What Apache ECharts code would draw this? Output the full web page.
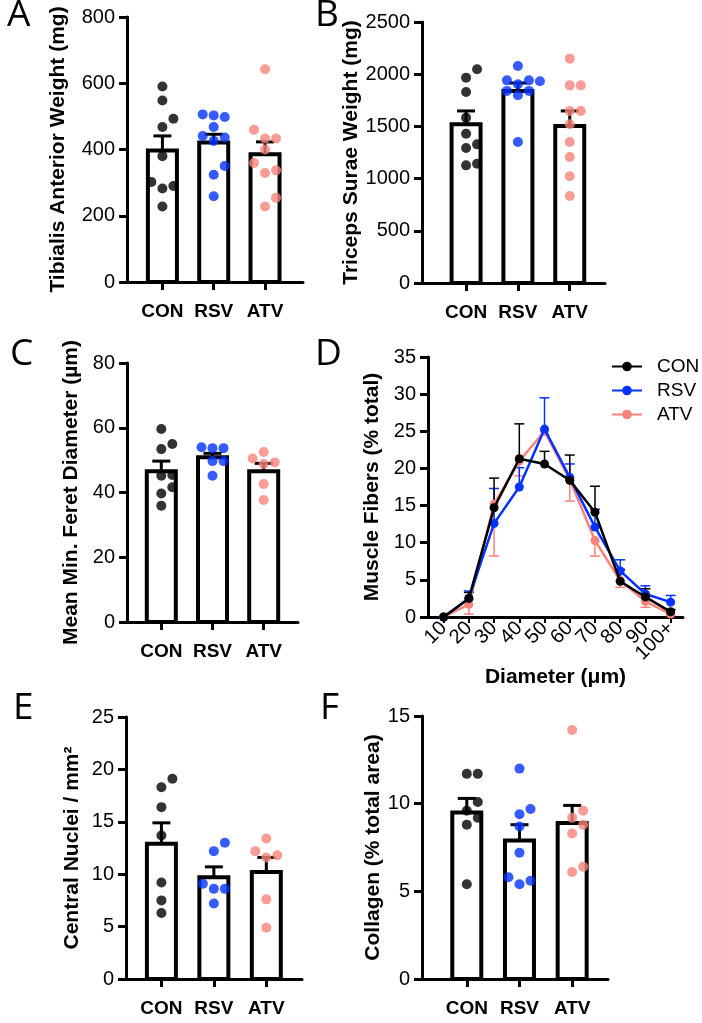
<!DOCTYPE html>
<html>
<head>
<meta charset="utf-8">
<script src="https://cdn.jsdelivr.net/npm/echarts@6/dist/echarts.min.js"></script>
<style>
html, body { margin: 0; padding: 0; background: #fff; }
#chart { width: 702px; height: 1023px; }
</style>
</head>
<body>
<div id="chart"></div>
<script>
var groups = ['CON', 'RSV', 'ATV']
var groupColors = ['#000000', '#0433ff', '#f8837b']

// A - tibialis anterior weight (mg)
var taCon = [590, 548, 493, 468, 380, 302, 290, 282, 228]
var taRsv = [506, 503, 498, 468, 441, 436, 426, 350, 324, 259]
var taAtv = [642, 460, 433, 433, 400, 359, 337, 329, 254, 228]
var taMean = [397, 421, 386]
var taSem = [44, 25, 37]

// B - triceps surae weight (mg)
var tsCon = [2047, 1967, 1830, 1584, 1430, 1328, 1293, 1143, 1127]
var tsRsv = [2079, 1941, 1941, 1932, 1903, 1840, 1840, 1798, 1351]
var tsAtv = [2149, 1893, 1893, 1648, 1648, 1520, 1351, 1207, 1022, 833]
var tsMean = [1520, 1840, 1505]
var tsSem = [128, 76, 143]

// C - mean min. feret diameter (um)
var mfCon = [59.6, 55.0, 53.4, 45.4, 45.2, 41.6, 39.7, 35.9]
var mfRsv = [54.0, 53.7, 53.7, 49.7, 49.7, 45.2]
var mfAtv = [52.5, 50.5, 49.3, 48.8, 42.6, 37.7]
var mfMean = [46.6, 50.9, 46.6]
var mfSem = [3.1, 1.2, 2.4]

// D - fiber size distribution (% total)
var diamBins = ['10', '20', '30', '40', '50', '60', '70', '80', '90', '100+']
var distCon = [0, 2.5, 14.7, 21.3, 20.6, 18.4, 14.1, 4.8, 2.7, 0.7]
var distConErr = [0, 0.8, 4.0, 4.7, 1.7, 3.4, 3.5, 1.6, 1.1, 0.3]
var distRsv = [0, 2.5, 12.6, 17.5, 25.3, 18.8, 12.1, 6.2, 3.1, 2.0]
var distRsvErr = [0, 1.0, 4.7, 2.6, 4.2, 1.8, 2.4, 1.5, 1.1, 0.9]
var distAtv = [0, 1.7, 15.2, 21.0, 25.0, 18.5, 10.3, 4.9, 2.1, 0.4]
var distAtvErr = [0, 1.3, 7.0, 2.0, 0.5, 2.9, 2.1, 0.9, 0.8, 0.2]

// E - central nuclei / mm2
var cnCon = [19.1, 18.3, 16.4, 13.7, 9.2, 7.5, 6.3]
var cnRsv = [13.0, 12.2, 9.1, 8.6, 8.6, 7.2]
var cnAtv = [13.4, 12.2, 11.8, 11.6, 7.6, 4.9]
var cnMean = [12.9, 9.7, 10.2]
var cnSem = [2.0, 1.0, 1.4]

// F - collagen (% total area)
var colCon = [11.7, 11.7, 10.1, 9.6, 9.2, 8.8, 5.4]
var colRsv = [12.0, 9.7, 9.4, 8.7, 7.2, 5.8, 5.6, 5.4]
var colAtv = [14.2, 9.6, 9.2, 8.8, 8.3, 6.4, 6.1]
var colMean = [9.5, 7.9, 8.9]
var colSem = [0.8, 0.9, 1.0]

var NUM_FONT = 'Liberation Sans'
var BAR_W = 29
var DOT = 10
var SPREAD = 11

var grids = []
var xAxes = []
var yAxes = []
var series = []

function yAxisOf (idx, max, interval, name, nameGap) {
  return {
    type: 'value',
    gridIndex: idx,
    min: 0,
    max: max,
    interval: interval,
    name: name,
    nameLocation: 'middle',
    nameGap: nameGap,
    nameTextStyle: { fontFamily: NUM_FONT, fontWeight: 'bold', fontSize: 21, color: '#000' },
    axisLine: { show: true, onZero: false, lineStyle: { color: '#000', width: 3 } },
    axisTick: { show: true, length: 8, lineStyle: { color: '#000', width: 3 } },
    axisLabel: {
      fontFamily: NUM_FONT, fontSize: 20, color: '#000', margin: 12,
      formatter: function (v) { return String(v) }
    },
    splitLine: { show: false }
  }
}

// simple column scatter: push colliding dots sideways
function swarm (values, center, pxX, pxY) {
  var placed = []
  var out = []
  var steps = [0, 1, -1, 2, -2, 3, -3]
  var sorted = values.slice().sort(function (a, b) { return a - b })
  sorted.forEach(function (v) {
    var dx = 0
    for (var k = 0; k < steps.length; k++) {
      dx = steps[k] * SPREAD
      var ok = placed.every(function (p) {
        var ddx = p[0] - dx
        var ddy = (p[1] - v) * pxY
        return Math.sqrt(ddx * ddx + ddy * ddy) >= DOT
      })
      if (ok) break
    }
    placed.push([dx, v])
    out.push([center + dx / pxX, v])
  })
  return out
}

function renderBar (params, api) {
  var top = api.coord([api.value(0), api.value(1)])
  var base = api.coord([api.value(0), 0])
  return {
    type: 'rect',
    shape: { x: top[0] - BAR_W / 2, y: top[1], width: BAR_W, height: base[1] - top[1] },
    style: { fill: '#fff', stroke: '#000', lineWidth: 4 }
  }
}

function errRenderer (color, width, cap, dir) {
  return function (params, api) {
    var x = api.value(0)
    var m = api.value(1)
    var e = api.value(2)
    var p0 = api.coord([x, m])
    var p1 = api.coord([x, m + dir * e])
    var st = { stroke: color, lineWidth: width }
    return {
      type: 'group',
      children: [
        { type: 'line', shape: { x1: p0[0], y1: p0[1], x2: p1[0], y2: p1[1] }, style: st },
        { type: 'line', shape: { x1: p1[0] - cap, y1: p1[1], x2: p1[0] + cap, y2: p1[1] }, style: st }
      ]
    }
  }
}

function barPanel (idx, box, xr, ymax, yint, name, nameGap, mean, sem, pts) {
  grids.push({ left: box[0], top: box[1], width: box[2], height: box[3] })
  xAxes.push({
    type: 'value',
    gridIndex: idx,
    position: 'bottom',
    min: xr[0],
    max: xr[1],
    axisLine: { show: true, onZero: false, lineStyle: { color: '#000', width: 3 } },
    axisTick: { show: true, customValues: [0, 1, 2], length: 8, lineStyle: { color: '#000', width: 3 } },
    axisLabel: {
      customValues: [0, 1, 2],
      formatter: function (v) { return groups[v] },
      fontFamily: NUM_FONT, fontWeight: 'bold', fontSize: 19, color: '#000', margin: 20
    },
    splitLine: { show: false }
  })
  yAxes.push(yAxisOf(idx, ymax, yint, name, nameGap))
  var xi = xAxes.length - 1
  var pxX = box[2] / (xr[1] - xr[0])
  var pxY = box[3] / ymax
  series.push({
    type: 'custom',
    xAxisIndex: xi,
    yAxisIndex: idx,
    renderItem: renderBar,
    encode: { x: 0, y: 1 },
    z: 1,
    data: mean.map(function (m, i) { return [i, m] })
  })
  series.push({
    type: 'custom',
    xAxisIndex: xi,
    yAxisIndex: idx,
    renderItem: errRenderer('#000', 3, 9, 1),
    encode: { x: 0, y: 1 },
    z: 2,
    data: mean.map(function (m, i) { return [i, m, sem[i]] })
  })
  pts.forEach(function (vals, g) {
    series.push({
      type: 'scatter',
      xAxisIndex: xi,
      yAxisIndex: idx,
      symbol: 'circle',
      symbolSize: DOT,
      itemStyle: { color: groupColors[g] },
      z: 3,
      data: swarm(vals, g, pxX, pxY)
    })
  })
}

function distAxis (labelIdx, withLine) {
  return {
    type: 'value',
    gridIndex: 3,
    position: 'bottom',
    min: -0.62,
    max: 9.49,
    name: withLine ? 'Diameter (\u03bcm)' : '',
    nameLocation: 'middle',
    nameGap: 46,
    nameTextStyle: { fontFamily: NUM_FONT, fontWeight: 'bold', fontSize: 21, color: '#000' },
    axisLine: { show: withLine, onZero: false, lineStyle: { color: '#000', width: 3 } },
    axisTick: {
      show: withLine,
      customValues: diamBins.map(function (b, i) { return i }),
      length: 6,
      lineStyle: { color: '#000', width: 2 }
    },
    axisLabel: {
      customValues: labelIdx,
      formatter: function (v) { return diamBins[v] },
      rotate: 45,
      fontFamily: NUM_FONT, fontSize: 20, color: '#000', margin: 8
    },
    splitLine: { show: false }
  }
}

barPanel(0, [127, 17, 176, 265], [-0.69, 2.74], 800, 200, 'Tibialis Anterior Weight (mg)', 58,
  taMean, taSem, [taCon, taRsv, taAtv])
barPanel(1, [422, 22, 183, 261], [-0.85, 2.68], 2500, 500, 'Triceps Surae Weight (mg)', 56,
  tsMean, tsSem, [tsCon, tsRsv, tsAtv])
barPanel(2, [127, 363, 171, 259], [-0.67, 2.67], 80, 20, 'Mean Min. Feret Diameter (\u00b5m)', 45,
  mfMean, mfSem, [mfCon, mfRsv, mfAtv])

// D - line chart; labels split over two axes so none get dropped
grids.push({ left: 428, top: 357, width: 255, height: 260 })
var dAxis = xAxes.length
xAxes.push(distAxis([0, 2, 3, 4, 5, 6, 7, 9], true))
xAxes.push(distAxis([1, 8], false))
yAxes.push(yAxisOf(3, 35, 5, 'Muscle Fibers (% total)', 45))

barPanel(4, [126, 717, 176, 262], [-0.675, 2.68], 25, 5, 'Central Nuclei / mm\u00b2', 43,
  cnMean, cnSem, [cnCon, cnRsv, cnAtv])
barPanel(5, [422, 716, 186, 263], [-0.85, 2.68], 15, 5, 'Collagen (% total area)', 33,
  colMean, colSem, [colCon, colRsv, colAtv])

var distSets = [
  { name: 'CON', vals: distCon, err: distConErr, dir: 1, z: 6 },
  { name: 'RSV', vals: distRsv, err: distRsvErr, dir: 1, z: 5 },
  { name: 'ATV', vals: distAtv, err: distAtvErr, dir: -1, z: 4 }
]
distSets.forEach(function (s, g) {
  series.push({
    type: 'custom',
    xAxisIndex: dAxis,
    yAxisIndex: 3,
    renderItem: errRenderer(groupColors[g], 1.5, 5, s.dir),
    encode: { x: 0, y: 1 },
    z: s.z - 3,
    data: s.vals.map(function (v, i) { return [i, v, s.err[i]] })
  })
  series.push({
    type: 'line',
    name: s.name,
    xAxisIndex: dAxis,
    yAxisIndex: 3,
    symbol: 'circle',
    symbolSize: 9,
    color: groupColors[g],
    lineStyle: { width: 2.5 },
    z: s.z,
    data: s.vals.map(function (v, i) { return [i, v] })
  })
})

var letters = [
  ['A', 7, 16], ['B', 315, 16], ['C', 10, 355], ['D', 315, 355], ['E', 13, 709], ['F', 320, 709]
]

var chart = echarts.init(document.getElementById('chart'))
chart.setOption({
  animation: false,
  backgroundColor: '#fff',
  grid: grids,
  xAxis: xAxes,
  yAxis: yAxes,
  legend: {
    data: ['CON', 'RSV', 'ATV'],
    orient: 'vertical',
    left: 606,
    top: 352,
    itemWidth: 30,
    itemHeight: 12,
    itemGap: 5,
    textStyle: { fontFamily: NUM_FONT, fontSize: 19, color: '#000', padding: [0, 0, 0, 10] }
  },
  graphic: letters.map(function (l) {
    return {
      type: 'text',
      left: l[1],
      top: l[2] - 19,
      style: { text: l[0], fontFamily: 'Open Sans', fontSize: 37, fill: '#000' }
    }
  }),
  series: series
})
</script>
</body>
</html>
